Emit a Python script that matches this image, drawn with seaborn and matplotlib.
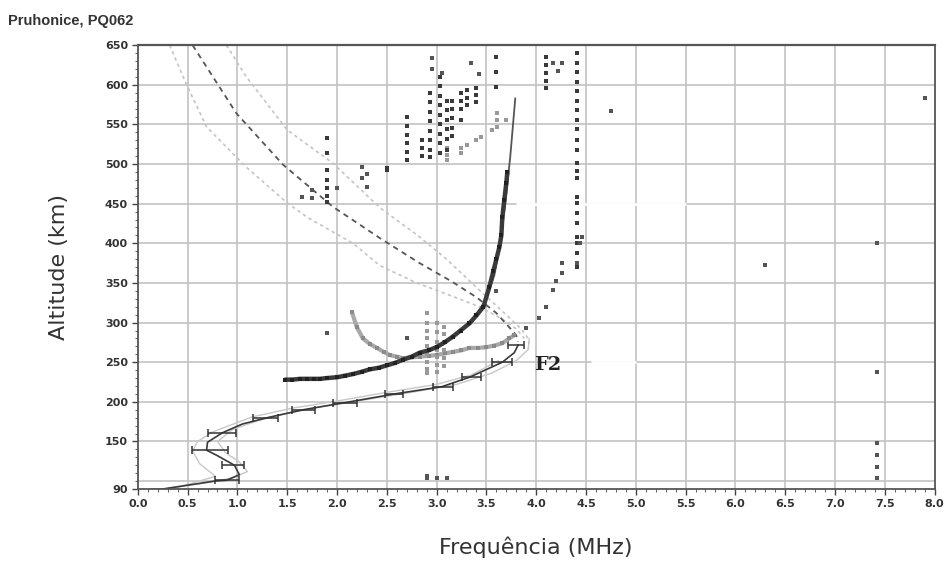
import matplotlib
matplotlib.use("Agg")
import matplotlib.pyplot as plt
import seaborn as sns
import pandas as pd
from matplotlib.ticker import MultipleLocator

# --- model curves (frequency MHz, altitude km) ---
model_f = [0.55, 0.99, 1.46, 1.96, 2.45, 2.83, 3.15, 3.40, 3.60, 3.73, 3.80, 3.82]
model_h = [650, 564, 499, 446, 405, 375, 352, 332, 312, 294, 284, 276]

bound_lo_f = [0.32, 0.49, 0.69, 1.09, 1.50, 1.70, 2.16, 2.43, 2.80, 3.10, 3.43, 3.65, 3.80, 3.88]
bound_lo_h = [650, 600, 547, 496, 451, 433, 400, 372, 350, 336, 320, 305, 292, 280]
bound_hi_f = [0.89, 1.09, 1.50, 1.96, 2.43, 2.83, 3.10, 3.43, 3.68, 3.85, 3.93, 3.92]
bound_hi_h = [650, 610, 543, 501, 445, 408, 380, 341, 312, 292, 278, 266]

# --- true height profile with error bars ---
prof_f = [0.10, 0.25, 0.77, 0.89, 1.02, 0.97, 0.80, 0.69, 0.70, 0.85, 1.05, 1.30, 1.66,
          2.08, 2.58, 3.05, 3.33, 3.66, 3.78, 3.82]
prof_h = [89, 90, 100, 101, 108, 120, 132, 139, 149, 161, 172, 180, 190,
          199, 210, 219, 231, 250, 262, 272]
err_f = [0.89, 0.97, 0.70, 0.85, 1.30, 1.66, 2.08, 2.58, 3.05, 3.33, 3.66, 3.80]
err_h = [101, 120, 139, 161, 180, 190, 199, 210, 219, 231, 250, 272]
err_lo = [0.12, 0.12, 0.16, 0.15, 0.14, 0.11, 0.12, 0.10, 0.09, 0.07, 0.10, 0.08]
err_hi = [0.13, 0.10, 0.21, 0.14, 0.11, 0.12, 0.12, 0.08, 0.11, 0.12, 0.10, 0.08]

env_a_f = [0.20, 0.70, 0.95, 1.10, 1.02, 0.88, 0.80, 0.95, 1.20, 1.45, 1.80, 2.25, 2.75,
           3.20, 3.55, 3.80, 3.92, 3.93]
env_a_h = [89, 98, 104, 112, 124, 136, 150, 165, 176, 184, 193, 202, 212, 222, 236, 252, 266, 280]
env_b_f = [0.40, 0.78, 0.62, 0.55, 0.60, 0.75, 1.15, 1.55, 2.00, 2.50, 3.00, 3.35, 3.62]
env_b_h = [92, 106, 122, 138, 150, 162, 181, 192, 201, 212, 222, 234, 252]

# --- O trace (dark echoes) ---
o_f = [1.48, 1.55, 1.63, 1.70, 1.77, 1.83, 1.90, 2.00, 2.08, 2.16, 2.25, 2.33, 2.42, 2.50,
       2.58, 2.66, 2.75, 2.83, 2.92, 3.00, 3.08, 3.16, 3.24, 3.33, 3.40, 3.47, 3.53, 3.57,
       3.60, 3.63, 3.65, 3.66, 3.68, 3.70, 3.71]
o_h = [228, 228, 229, 229, 229, 229, 230, 231, 233, 235, 238, 241, 243, 246, 249, 253, 257,
       262, 265, 269, 275, 282, 290, 299, 309, 320, 345, 365, 380, 395, 410, 433, 455, 476, 490]
o_line_f = [3.40, 3.50, 3.58, 3.64, 3.69, 3.74, 3.79]
o_line_h = [310, 330, 360, 400, 450, 510, 583]

# --- X trace (gray echoes) ---
x_f = [2.15, 2.20, 2.26, 2.33, 2.40, 2.47, 2.53, 2.60, 2.66, 2.75, 2.83, 2.92, 3.00, 3.08,
       3.16, 3.25, 3.33, 3.42, 3.50, 3.58, 3.66, 3.73, 3.78]
x_h = [313, 294, 280, 273, 268, 263, 259, 257, 255, 256, 257, 258, 259, 261, 263, 265, 268,
       268, 269, 271, 274, 280, 284]

# --- scattered echoes: columns of (frequency, altitudes) ---
dark_cols_f = [2.50, 2.70, 2.85, 2.93, 3.03, 3.10, 3.15, 3.25, 3.31, 3.40, 3.60, 4.10, 4.41, 4.41, 1.90]
dark_cols_h = [
    [495, 493],
    [559, 548, 537, 526, 515, 505],
    [530, 520, 510],
    [590, 578, 566, 554, 542, 530, 518, 509],
    [610, 598, 586, 574, 562, 550, 538, 526, 514],
    [580, 568, 556, 544, 532, 518],
    [580, 569, 558, 546, 535],
    [590, 580, 570, 555],
    [593, 584, 575],
    [596, 587, 578],
    [635, 616, 597],
    [635, 625, 615, 605, 596],
    [640, 628, 616, 604, 592, 580, 568, 556, 544, 530, 518],
    [501, 491, 482, 458, 451, 438, 426, 408, 400, 388, 370],
    [533, 514, 492, 480, 470, 460, 452],
]
gray_cols_f = [2.90, 3.00, 3.07, 3.10, 3.25, 3.31, 3.40, 3.45, 3.56, 3.61, 3.70]
gray_cols_h = [
    [312, 300, 290, 280, 270, 260, 250, 242, 236],
    [300, 288, 276, 266, 256, 246, 238],
    [295, 285, 275, 265, 255, 245],
    [520, 512, 505],
    [520, 514],
    [524],
    [530],
    [534],
    [543],
    [564, 555, 547],
    [555],
]
misc_f = [2.95, 2.95, 3.05, 3.35, 3.43, 4.17, 4.22, 4.26, 4.46, 4.03, 4.10, 4.17, 4.20,
          4.26, 4.26, 4.41, 4.44, 3.90, 1.75, 1.75, 1.65, 2.00, 2.25, 2.25, 2.30, 2.30,
          1.90, 2.70, 2.90, 2.90, 3.00, 3.10, 7.90, 7.42, 7.42, 7.42, 7.42, 7.42, 7.42,
          6.30, 4.75, 3.60]
misc_h = [634, 620, 615, 628, 614, 628, 618, 627, 408, 306, 320, 341, 352, 362, 375, 375,
          400, 293, 467, 457, 458, 470, 496, 482, 488, 471, 287, 280, 106, 104, 104, 104,
          583, 401, 238, 148, 133, 118, 104, 373, 567, 340]

df_dark = pd.DataFrame({
    "f": [f for f, hs in zip(dark_cols_f, dark_cols_h) for _ in hs],
    "h": [h for hs in dark_cols_h for h in hs],
})
df_gray = pd.DataFrame({
    "f": [f for f, hs in zip(gray_cols_f, gray_cols_h) for _ in hs],
    "h": [h for hs in gray_cols_h for h in hs],
})

sns.set_style("white")
fig = plt.figure(figsize=(9.44, 5.65), dpi=100)
ax = fig.add_axes([0.146, 0.1345, 0.844, 0.7855])

# grid
for gx in [0.5 * i for i in range(1, 16)]:
    ax.axvline(gx, color="#c2c2c2", lw=1.2, zorder=0)
for gy in [100] + list(range(150, 651, 50)):
    ax.axhline(gy, color="#c2c2c2", lw=1.2, zorder=0)
# white blanks seen in the scanned image
ax.hlines(450, 3.8, 5.5, color="white", lw=2, zorder=1)
ax.hlines(250, 4.55, 5.0, color="white", lw=2, zorder=1)

# model curves
sns.lineplot(x=bound_lo_f, y=bound_lo_h, sort=False, estimator=None, ax=ax,
             color="#c4c4c4", lw=1.2, linestyle=(0, (2, 2)))
sns.lineplot(x=bound_hi_f, y=bound_hi_h, sort=False, estimator=None, ax=ax,
             color="#c4c4c4", lw=1.2, linestyle=(0, (2, 2)))
sns.lineplot(x=model_f, y=model_h, sort=False, estimator=None, ax=ax,
             color="#555555", lw=1.3, linestyle=(0, (3, 2.5)))

# profile envelopes and profile
sns.lineplot(x=env_a_f, y=env_a_h, sort=False, estimator=None, ax=ax, color="#c8c8c8", lw=1)
sns.lineplot(x=env_b_f, y=env_b_h, sort=False, estimator=None, ax=ax, color="#c8c8c8", lw=1)
sns.lineplot(x=prof_f, y=prof_h, sort=False, estimator=None, ax=ax, color="#3a3a3a", lw=1.2)
ax.errorbar(err_f, err_h, xerr=[err_lo, err_hi], fmt="none", ecolor="#333333",
            elinewidth=1.1, capsize=3, capthick=1.1)

# echoes
sns.lineplot(x=o_line_f, y=o_line_h, sort=False, estimator=None, ax=ax, color="#555555", lw=1.3)
sns.lineplot(x=x_f, y=x_h, sort=False, estimator=None, ax=ax, color="#a8a8a8", lw=3.0, zorder=2)
sns.scatterplot(x=x_f, y=x_h, ax=ax, color="#8a8a8a", marker="s", s=9, linewidth=0, zorder=3)
sns.scatterplot(data=df_gray, x="f", y="h", ax=ax, color="#999999", marker="s", s=8,
                linewidth=0, zorder=3)
sns.lineplot(x=o_f, y=o_h, sort=False, estimator=None, ax=ax, color="#3a3a3a", lw=3.2, zorder=3)
sns.scatterplot(x=o_f, y=o_h, ax=ax, color="#222222", marker="s", s=10, linewidth=0, zorder=4)
sns.scatterplot(data=df_dark, x="f", y="h", ax=ax, color="#3a3a3a", marker="s", s=9,
                linewidth=0, zorder=4)
sns.scatterplot(x=misc_f, y=misc_h, ax=ax, color="#555555", marker="s", s=7,
                linewidth=0, zorder=4)

ax.text(3.98, 247, "F2", fontsize=14, fontweight="bold", family="DejaVu Serif",
        color="#222222", va="center", ha="left")

ax.set_xlim(0, 8)
ax.set_ylim(90, 650)
ax.set_xticks([0.5 * i for i in range(17)])
ax.set_yticks([90] + list(range(150, 651, 50)))
ax.xaxis.set_minor_locator(MultipleLocator(0.1))
ax.yaxis.set_minor_locator(MultipleLocator(10))
ax.set_xticklabels([f"{0.5 * i:.1f}" for i in range(17)])
for lbl in ax.get_xticklabels() + ax.get_yticklabels():
    lbl.set_family(["Liberation Sans Narrow", "DejaVu Sans"])
    lbl.set_fontweight("bold")
    lbl.set_fontsize(8)
    lbl.set_color("#333333")
ax.tick_params(which="major", direction="out", length=4, width=1, color="#444444", pad=3,
               bottom=True, left=True)
ax.tick_params(which="minor", direction="out", length=2, width=0.8, color="#666666",
               bottom=True, left=True)
for sp in ax.spines.values():
    sp.set_color("#555555")
    sp.set_linewidth(1.3)
ax.spines["top"].set_linewidth(1.6)

ax.set_xlabel("Frequência (MHz)", fontsize=16, family="DejaVu Sans", color="#333333", labelpad=20)
ax.set_ylabel("Altitude (km)", fontsize=16, family="DejaVu Sans", color="#333333", labelpad=26)
fig.text(0.008, 0.962, "Pruhonice, PQ062", fontsize=10.5, fontweight="bold",
         family=["Liberation Sans", "DejaVu Sans"], color="#333333", ha="left", va="center")

fig.savefig("out.png", dpi=100)
